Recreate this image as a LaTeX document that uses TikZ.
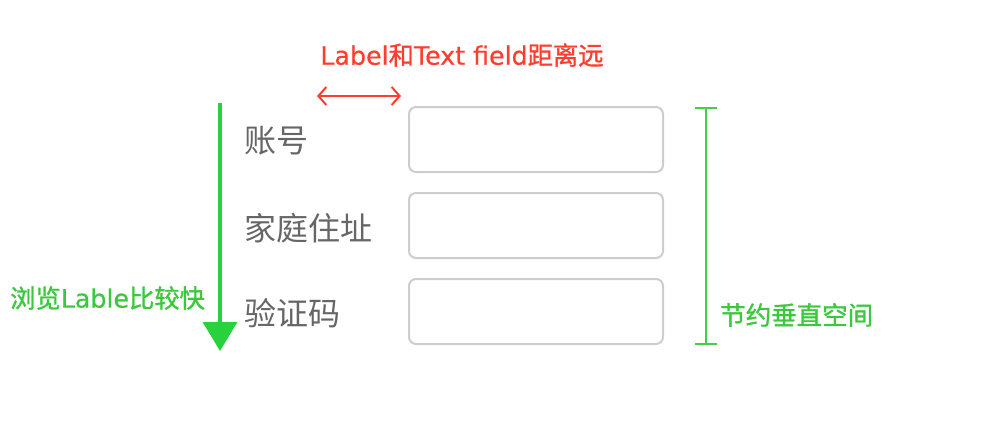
\documentclass[tikz,border=0pt]{standalone}
\usepackage{fontspec}
\setmainfont{Noto Sans CJK SC}
\newfontfamily\cjkann[FakeBold=1.2]{Noto Sans CJK SC}
\newfontfamily\latann[FakeBold=0.5]{DejaVu Sans}
\usetikzlibrary{arrows.meta}
\definecolor{redc}{RGB}{255,62,48}
\definecolor{greenarrow}{RGB}{40,210,60}
\definecolor{greentext}{RGB}{60,200,60}
\definecolor{greybar}{RGB}{70,205,70}
\definecolor{labelgray}{RGB}{102,102,102}
\definecolor{fieldgray}{RGB}{205,205,205}
\begin{document}
\begin{tikzpicture}[x=1pt,y=-1pt,
  field/.style={draw=fieldgray, line width=2pt, rounded corners=7pt, fill=white},
  lbl/.style={anchor=west, inner sep=0pt, text=labelgray, font=\fontsize{32}{33}\selectfont},
  ann/.style={inner sep=0pt, font=\fontsize{25.3}{27}\selectfont}]
\useasboundingbox (0,0) rectangle (984,440);
% title
\node[ann, text=redc] (title) at (462,55) {\latann Label\cjkann 和\latann Text field\cjkann 距离远};
\coordinate (ra) at (317,96);
\coordinate (rb) at (401,96);
\draw[redc, line width=2pt, {Straight Barb[length=8pt,width=18pt]}-{Straight Barb[length=8pt,width=18pt]}] (ra) -- (rb);
% labels
\node[lbl] (l1) at (244,141) {账号};
\node[lbl] (l2) at (244,228) {家庭住址};
\node[lbl] (l3) at (244,313) {验证码};
% fields
\draw[field] (409,107) rectangle (663,172);
\draw[field] (409,193) rectangle (663,258);
\draw[field] (409,279) rectangle (663,344);
% green arrow
\coordinate (ga) at (220,103);
\coordinate (gb) at (220,351);
\draw[greenarrow, line width=3.5pt, -{Triangle[length=29pt,width=34pt]}] (ga) -- (gb);
\node[ann, text=greentext, anchor=west] (left) at (10,298) {\cjkann 浏览\latann Lable\cjkann 比较快};
% I bar
\coordinate (ia) at (706,107);
\coordinate (ib) at (706,345);
\draw[greybar, line width=2.2pt, {Bar[width=22pt]}-{Bar[width=22pt]}] (ia) -- (ib);
\node[ann, text=greentext, anchor=west, font=\fontsize{25.5}{27}\selectfont] (right) at (720,315) {\cjkann 节约垂直空间};
\end{tikzpicture}
\end{document}
